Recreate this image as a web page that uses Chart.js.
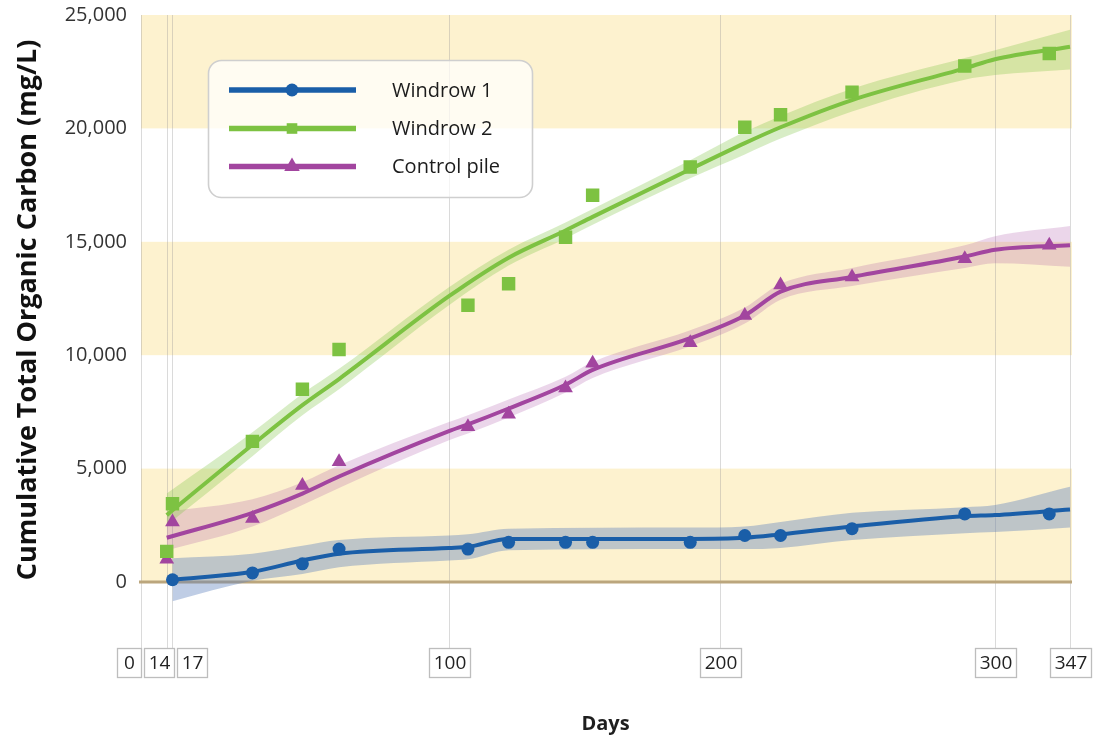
<!DOCTYPE html>
<html>
<head>
<meta charset="utf-8">
<title>Cumulative Total Organic Carbon</title>
<script src="https://cdn.jsdelivr.net/npm/chart.js@4.4.1/dist/chart.umd.min.js"></script>
<style>
  html, body { margin: 0; padding: 0; background: #ffffff; }
  #wrap { width: 1094px; height: 742px; position: relative; }
</style>
</head>
<body>
<div id="wrap"><canvas id="toc" width="1094" height="742"></canvas></div>
<script>
// ---- data -------------------------------------------------------------
const seriesNames = ['Windrow 1', 'Windrow 2', 'Control pile'];

// labelled days on the horizontal axis
const dayTicks = [0, 14, 17, 100, 200, 300, 347];
// labelled values on the vertical axis (mg/L)
const yTicks = [0, 5000, 10000, 15000, 20000, 25000];

// measured samples
const windrow1Days = [17, 41, 56, 67, 107, 122, 143, 153, 189, 209, 222, 248, 289, 334];
const windrow1Toc  = [100, 400, 800, 1450, 1450, 1750, 1750, 1750, 1750, 2050, 2050, 2350, 3000, 3000];

const windrow2Days = [14, 17, 41, 56, 67, 107, 122, 143, 153, 189, 209, 222, 248, 289, 334];
const windrow2Toc  = [1350, 3450, 6200, 8500, 10250, 12200, 13150, 15200, 17050, 18300, 20050, 20600, 21600, 22750, 23300];

const controlDays = [14, 17, 41, 56, 67, 107, 122, 143, 153, 189, 209, 222, 248, 289, 334];
const controlToc  = [1000, 2650, 2800, 4250, 5300, 6850, 7400, 8550, 9650, 10550, 11750, 13100, 13450, 14250, 14850];

// fitted trend with its confidence band
const windrow1FitDays = [17, 41, 56, 67, 100, 107, 122, 189, 209, 222, 248, 289, 300, 347];
const windrow1Fit     = [100, 450, 950, 1250, 1500, 1550, 1900, 1900, 1950, 2100, 2450, 2900, 2950, 3200];
const windrow1Upper   = [1050, 1250, 1600, 1850, 2050, 2100, 2350, 2400, 2450, 2650, 3050, 3300, 3400, 4200];
const windrow1Lower   = [-850, 50, 350, 650, 950, 1000, 1400, 1450, 1450, 1500, 1850, 2150, 2200, 2400];

const windrow2FitDays = [14, 41, 56, 67, 100, 122, 143, 153, 189, 209, 222, 248, 289, 300, 347];
const windrow2Fit     = [2950, 6050, 7800, 8950, 12600, 14300, 15500, 16100, 18200, 19350, 20050, 21250, 22650, 23050, 23600];
const windrow2Upper   = [3900, 6600, 8300, 9400, 13000, 14650, 15850, 16450, 18600, 19850, 20550, 21750, 23100, 23450, 24350];
const windrow2Lower   = [2500, 5550, 7350, 8500, 12200, 13950, 15150, 15750, 17800, 18850, 19550, 20750, 22150, 22350, 22600];

const controlFitDays = [14, 41, 56, 67, 100, 107, 122, 143, 153, 189, 209, 222, 248, 289, 300, 347];
const controlFit     = [1950, 3050, 3900, 4650, 6650, 6950, 7650, 8700, 9350, 10750, 11750, 12800, 13450, 14350, 14650, 14850];
const controlUpper   = [3100, 3650, 4400, 5150, 7050, 7350, 8050, 9050, 9700, 11100, 12100, 13150, 13850, 14850, 15250, 15700];
const controlLower   = [1400, 2450, 3400, 4150, 6250, 6550, 7250, 8350, 9000, 10400, 11400, 12450, 13050, 13850, 14050, 13900];

// ---- appearance -------------------------------------------------------
const FONT = "'Open Sans', 'Noto Sans', 'DejaVu Sans', sans-serif";
const lineColors = ['#1a5ea8', '#7dc242', '#a2459f'];
const bandColors = ['rgba(95, 130, 190, 0.40)', 'rgba(125, 194, 66, 0.30)', 'rgba(162, 70, 160, 0.22)'];
const markerStyles = ['circle', 'rect', 'triangle'];
const markerRadii = [6.5, 9.5, 8.5];

// The day axis is stretched unevenly: share of the axis width at each labelled day.
const dayAxisStops = [0, 0.0277, 0.0339, 0.3315, 0.6233, 0.9193, 1];

class SegmentedDayScale extends Chart.LinearScale {
  static id = 'segmentedDay';
  static defaults = {};
  determineDataLimits() {
    this.min = dayTicks[0];
    this.max = dayTicks[dayTicks.length - 1];
  }
  buildTicks() {
    return dayTicks.map(v => ({ value: v }));
  }
  getPixelForValue(value) {
    const d = dayTicks, s = dayAxisStops;
    let i = 0;
    while (i < d.length - 2 && value > d[i + 1]) i++;
    const t = (value - d[i]) / (d[i + 1] - d[i]);
    return this.getPixelForDecimal(s[i] + t * (s[i + 1] - s[i]));
  }
  getValueForPixel(pixel) {
    const dec = this.getDecimalForPixel(pixel);
    const d = dayTicks, s = dayAxisStops;
    let i = 0;
    while (i < s.length - 2 && dec > s[i + 1]) i++;
    const t = (dec - s[i]) / (s[i + 1] - s[i]);
    return d[i] + t * (d[i + 1] - d[i]);
  }
}
Chart.register(SegmentedDayScale);

const pairs = (xs, ys) => xs.map((x, i) => ({ x, y: ys[i] }));

// ---- datasets ---------------------------------------------------------
const bandSets = [
  [windrow1FitDays, windrow1Upper, windrow1Lower],
  [windrow2FitDays, windrow2Upper, windrow2Lower],
  [controlFitDays, controlUpper, controlLower]
];
const fitSets = [
  [windrow1FitDays, windrow1Fit],
  [windrow2FitDays, windrow2Fit],
  [controlFitDays, controlFit]
];
const sampleSets = [
  [windrow1Days, windrow1Toc],
  [windrow2Days, windrow2Toc],
  [controlDays, controlToc]
];

const datasets = [];
bandSets.forEach(([days, up, low], s) => {
  datasets.push({
    label: seriesNames[s] + ' upper',
    data: pairs(days, up),
    borderWidth: 0, borderColor: 'rgba(0,0,0,0)',
    pointRadius: 0, fill: false,
    cubicInterpolationMode: 'monotone', order: 3
  });
  datasets.push({
    label: seriesNames[s] + ' lower',
    data: pairs(days, low),
    borderWidth: 0, borderColor: 'rgba(0,0,0,0)',
    backgroundColor: bandColors[s],
    pointRadius: 0, fill: '-1',
    cubicInterpolationMode: 'monotone', order: 3
  });
});
fitSets.forEach(([days, vals], s) => {
  datasets.push({
    label: seriesNames[s] + ' trend',
    data: pairs(days, vals),
    borderColor: lineColors[s], borderWidth: 4,
    pointRadius: 0, fill: false,
    cubicInterpolationMode: 'monotone', order: 2
  });
});
sampleSets.forEach(([days, vals], s) => {
  datasets.push({
    label: seriesNames[s],
    data: pairs(days, vals),
    showLine: false,
    pointStyle: markerStyles[s],
    pointRadius: markerRadii[s],
    pointBackgroundColor: lineColors[s],
    pointBorderWidth: 0,
    order: 1
  });
});

// ---- plugins ----------------------------------------------------------
const backdrop = {
  id: 'backdrop',
  beforeDatasetsDraw(chart) {
    const { ctx, chartArea, scales: { x, y } } = chart;
    ctx.save();
    // alternating pale-yellow stripes
    ctx.fillStyle = '#fdf2cf';
    for (let i = 0; i + 1 < yTicks.length; i += 2) {
      const top = y.getPixelForValue(yTicks[i + 1]);
      const bottom = y.getPixelForValue(yTicks[i]);
      ctx.fillRect(chartArea.left, top, chartArea.right - chartArea.left + 2, bottom - top);
    }
    // day gridlines running down to the label boxes
    ctx.strokeStyle = 'rgba(150, 150, 150, 0.35)';
    ctx.lineWidth = 1;
    x.ticks.forEach(t => {
      const px = Math.round(x.getPixelForValue(t.value)) + 0.5;
      ctx.beginPath();
      ctx.moveTo(px, chartArea.top);
      ctx.lineTo(px, 648);
      ctx.stroke();
    });
    // zero baseline
    const y0 = y.getPixelForValue(0);
    ctx.strokeStyle = '#bba67d';
    ctx.lineWidth = 3;
    ctx.beginPath();
    ctx.moveTo(chartArea.left - 2, y0);
    ctx.lineTo(chartArea.right + 2, y0);
    ctx.stroke();
    ctx.restore();
  },
  afterDraw(chart) {
    const { ctx, scales: { x } } = chart;
    ctx.save();
    ctx.font = '19px ' + FONT;
    const items = x.ticks.map(t => {
      const label = String(t.value);
      return { label, center: x.getPixelForValue(t.value), width: Math.max(24, ctx.measureText(label).width + 8) };
    });
    // push crowded boxes apart so they sit side by side
    const gap = 3.5;
    for (let iter = 0; iter < 100; iter++) {
      let moved = false;
      for (let i = 0; i < items.length - 1; i++) {
        const a = items[i], b = items[i + 1];
        const overlap = (a.center + a.width / 2 + gap) - (b.center - b.width / 2);
        if (overlap > 0.01) { a.center -= overlap / 2; b.center += overlap / 2; moved = true; }
      }
      if (!moved) break;
    }
    const top = 648.5, h = 29;
    items.forEach(it => {
      const left = Math.round(it.center - it.width / 2) + 0.5;
      ctx.fillStyle = '#ffffff';
      ctx.fillRect(left, top, it.width, h);
      ctx.strokeStyle = '#bdbdbd';
      ctx.lineWidth = 1.3;
      ctx.strokeRect(left, top, Math.round(it.width), h);
      ctx.fillStyle = '#222222';
      ctx.textAlign = 'center';
      ctx.textBaseline = 'middle';
      ctx.fillText(it.label, left + Math.round(it.width) / 2, top + h / 2 + 1);
    });
    ctx.restore();
  }
};

const seriesKey = {
  id: 'seriesKey',
  afterDatasetsDraw(chart) {
    const ctx = chart.ctx;
    const bx = 208.5, by = 60.5, bw = 324, bh = 137, r = 13;
    ctx.save();
    ctx.beginPath();
    ctx.roundRect(bx, by, bw, bh, r);
    ctx.fillStyle = 'rgba(255, 255, 255, 0.72)';
    ctx.fill();
    ctx.strokeStyle = '#cfcfcf';
    ctx.lineWidth = 1.6;
    ctx.stroke();
    const rows = [90, 128.5, 166.5];
    const keyRadii = [6.5, 7.5, 9];
    seriesNames.forEach((name, s) => {
      const yy = rows[s];
      ctx.strokeStyle = lineColors[s];
      ctx.lineWidth = 5.5;
      ctx.lineCap = 'butt';
      ctx.beginPath();
      ctx.moveTo(229, yy);
      ctx.lineTo(356, yy);
      ctx.stroke();
      ctx.fillStyle = lineColors[s];
      Chart.helpers.drawPoint(ctx, { pointStyle: markerStyles[s], radius: keyRadii[s], rotation: 0, borderWidth: 0 }, 292, yy);
      ctx.fillStyle = '#1c1c1c';
      ctx.font = '20px ' + FONT;
      ctx.textAlign = 'left';
      ctx.textBaseline = 'middle';
      ctx.fillText(name, 392, yy + 1);
    });
    ctx.restore();
  }
};

// ---- chart ------------------------------------------------------------
const plotTop = 15, zeroPixel = 582, yMin = -1000, yMax = 25000;
const plotBottom = zeroPixel + (zeroPixel - plotTop) * (-yMin) / yMax;

new Chart(document.getElementById('toc'), {
  type: 'line',
  data: { datasets },
  options: {
    responsive: false,
    animation: false,
    layout: { padding: { left: 0, right: 24, top: plotTop, bottom: 0 } },
    plugins: { legend: { display: false }, tooltip: { enabled: false } },
    scales: {
      x: {
        type: 'segmentedDay',
        afterFit: s => { s.height = 742 - plotBottom; s.paddingLeft = 0; s.paddingRight = 0; },
        ticks: { display: false },
        grid: { display: false },
        border: { display: false },
        title: {
          display: true, text: 'Days', color: '#1e1e1e',
          font: { family: FONT, size: 20, weight: 'bold' },
          padding: { top: 0, bottom: 6 }
        }
      },
      y: {
        min: yMin, max: yMax,
        afterBuildTicks: s => { s.ticks = yTicks.map(v => ({ value: v })); },
        afterFit: s => { s.width = 141; s.paddingTop = 0; s.paddingBottom = 0; },
        ticks: {
          color: '#333333', padding: 14,
          font: { family: FONT, size: 20 },
          callback: v => Number(v).toLocaleString('en-US')
        },
        grid: { display: false, drawTicks: false },
        border: { display: false },
        title: {
          display: true, text: 'Cumulative Total Organic Carbon (mg/L)', color: '#111111',
          font: { family: FONT, size: 27, weight: 'bold' },
          padding: { top: 12, bottom: 0 }
        }
      }
    }
  },
  plugins: [backdrop, seriesKey]
});
</script>
</body>
</html>
